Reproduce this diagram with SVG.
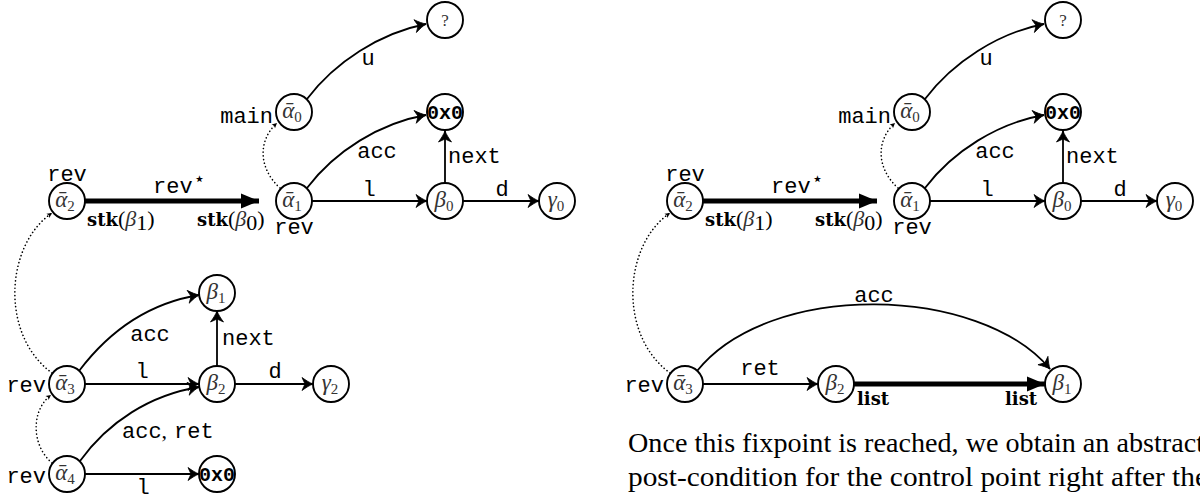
<svg xmlns="http://www.w3.org/2000/svg" width="1200" height="500" viewBox="0 0 1200 500">
<style>
.n circle{fill:#fff;stroke:#000;stroke-width:1.9}
.lab{font-family:"Liberation Serif","DejaVu Serif",serif;font-style:italic;font-size:23px;fill:#333;text-anchor:middle}
.sub{font-size:15px;font-style:normal}
.zz{font-family:"Liberation Mono","DejaVu Sans Mono",monospace;font-weight:bold;font-size:20px;fill:#000;text-anchor:middle}
.qm{font-family:"Liberation Serif","DejaVu Serif",serif;font-size:17px;fill:#333;text-anchor:middle}
.tt{font-family:"Liberation Mono","DejaVu Sans Mono",monospace;font-size:22px;fill:#000}
.star{font-family:"DejaVu Sans",sans-serif;font-size:19px}
.mid{text-anchor:middle}
.end{text-anchor:end}
.bf{font-family:"DejaVu Serif","Liberation Serif",serif;font-weight:bold;font-size:18px;fill:#000}
.mr{font-family:"Liberation Serif","DejaVu Serif",serif;font-size:22px;fill:#000}
.mi{font-style:italic;fill:#333}
.e{fill:none;stroke:#000;stroke-width:1.8;marker-end:url(#arr)}
.th{fill:none;stroke:#000;stroke-width:5;marker-end:url(#big)}
.dt{fill:none;stroke:#000;stroke-width:1.6;stroke-dasharray:0.1 3.6;stroke-linecap:round;marker-end:url(#sm)}
.body{font-family:"Liberation Serif","DejaVu Serif",serif;font-size:27px;fill:#000}
</style>
<defs>
<marker id="arr" markerUnits="userSpaceOnUse" viewBox="-13 -8 15 16" markerWidth="15" markerHeight="16" refX="0" refY="0" orient="auto">
<path d="M0,0 C-3,-1.2 -7,-3.5 -11,-6.5 L-8,0 L-11,6.5 C-7,3.5 -3,1.2 0,0 Z" fill="#000" stroke="#000" stroke-width="0.8" stroke-linejoin="round"/>
</marker>
<marker id="big" markerUnits="userSpaceOnUse" viewBox="-19 -9 20 18" markerWidth="20" markerHeight="18" refX="0" refY="0" orient="auto">
<path d="M0,0 L-18,-7.5 L-18,7.5 Z" fill="#000"/>
</marker>
<marker id="sm" markerUnits="userSpaceOnUse" viewBox="-7 -4 8 8" markerWidth="8" markerHeight="8" refX="0" refY="0" orient="auto">
<path d="M0,0 L-5,-2.6 L-3.8,0 L-5,2.6 Z" fill="#000"/>
</marker>
</defs>

<!-- LEFT DIAGRAM -->
<g id="left">
<g id="L-edges">
<path class="e" d="M307,99 C335,62 380,33 426,24"/>
<path class="e" d="M307,188 C335,151 380,123 426,115"/>
<path class="e" d="M312,201 L427,201"/>
<path class="e" d="M445,183 L445,131"/>
<path class="e" d="M463,201 L539,201"/>
<path class="th" d="M85,201 L259,201"/>
<path class="dt" d="M280,188 C258,168 258,140 277,123"/>
<path class="dt" d="M52,373 C0,335 5,245 52,213"/>
<path class="dt" d="M52,463 C31,445 31,410 51,395"/>
<path class="e" d="M79,371 C110,330 150,303 199,295"/>
<path class="e" d="M85,384 L199,384"/>
<path class="e" d="M80,461 C108,422 150,395 199,387"/>
<path class="e" d="M217,366 L217,311"/>
<path class="e" d="M235,384 L313,384"/>
<path class="e" d="M85,474 L199,474"/>
</g>
<g id="L-labels">
<text class="tt mid" x="67" y="181">rev</text>
<text class="tt" x="153" y="193">rev<tspan class="star" dx="1" dy="-8">⋆</tspan></text>
<text x="87" y="226"><tspan class="bf">stk</tspan><tspan class="mr">(</tspan><tspan class="mr mi">β</tspan><tspan class="mr" font-size="15" dy="4">1</tspan><tspan class="mr" dy="-4">)</tspan></text>
<text x="197" y="226"><tspan class="bf">stk</tspan><tspan class="mr">(</tspan><tspan class="mr mi">β</tspan><tspan class="mr" font-size="15" dy="4">0</tspan><tspan class="mr" dy="-4">)</tspan></text>
<text class="tt mid" x="294" y="234">rev</text>
<text class="tt end" x="273" y="123">main</text>
<text class="tt mid" x="368" y="65">u</text>
<text class="tt mid" x="377" y="158">acc</text>
<text class="tt mid" x="369" y="196">l</text>
<text class="tt" x="448" y="163">next</text>
<text class="tt mid" x="502" y="196">d</text>
<text class="tt mid" x="150" y="341">acc</text>
<text class="tt mid" x="142" y="378">l</text>
<text class="tt" x="222" y="345">next</text>
<text class="tt mid" x="275" y="378">d</text>
<text class="tt" x="122" y="438">acc<tspan class="mr">,</tspan><tspan dx="7">ret</tspan></text>
<text class="tt mid" x="143" y="494">l</text>
<text class="tt end" x="46" y="392">rev</text>
<text class="tt end" x="46" y="483">rev</text>
</g>
<g id="L-a0" class="n"><circle cx="294" cy="112" r="18"/><text class="lab" x="292" y="118">ᾱ<tspan class="sub" dy="4">0</tspan></text></g>
<g id="L-q" class="n"><circle cx="445" cy="20" r="18"/><text class="qm" x="445" y="26">?</text></g>
<g id="L-z0" class="n"><circle cx="445" cy="112" r="18"/><text class="zz" x="445" y="119">0x0</text></g>
<g id="L-a1" class="n"><circle cx="294" cy="201" r="18"/><text class="lab" x="292" y="207">ᾱ<tspan class="sub" dy="4">1</tspan></text></g>
<g id="L-b0" class="n"><circle cx="445" cy="201" r="18"/><text class="lab" x="444" y="207">β<tspan class="sub" dy="4">0</tspan></text></g>
<g id="L-g0" class="n"><circle cx="557" cy="201" r="18"/><text class="lab" x="556" y="207">γ<tspan class="sub" dy="4">0</tspan></text></g>
<g id="L-a2" class="n"><circle cx="67" cy="201" r="18"/><text class="lab" x="65" y="207">ᾱ<tspan class="sub" dy="4">2</tspan></text></g>
<g id="L-b1" class="n"><circle cx="217" cy="293" r="18"/><text class="lab" x="216" y="299">β<tspan class="sub" dy="4">1</tspan></text></g>
<g id="L-b2" class="n"><circle cx="217" cy="384" r="18"/><text class="lab" x="216" y="390">β<tspan class="sub" dy="4">2</tspan></text></g>
<g id="L-g2" class="n"><circle cx="331" cy="384" r="18"/><text class="lab" x="330" y="390">γ<tspan class="sub" dy="4">2</tspan></text></g>
<g id="L-a3" class="n"><circle cx="67" cy="384" r="18"/><text class="lab" x="65" y="390">ᾱ<tspan class="sub" dy="4">3</tspan></text></g>
<g id="L-a4" class="n"><circle cx="67" cy="474" r="18"/><text class="lab" x="65" y="480">ᾱ<tspan class="sub" dy="4">4</tspan></text></g>
<g id="L-z1" class="n"><circle cx="217" cy="474" r="18"/><text class="zz" x="217" y="481">0x0</text></g>
</g>

<!-- RIGHT DIAGRAM -->
<g id="right" transform="translate(618,0)">
<g id="R-edges">
<path class="e" d="M307,99 C335,62 380,33 426,24"/>
<path class="e" d="M307,188 C335,151 380,123 426,115"/>
<path class="e" d="M312,201 L427,201"/>
<path class="e" d="M445,183 L445,131"/>
<path class="e" d="M463,201 L539,201"/>
<path class="th" d="M85,201 L259,201"/>
<path class="dt" d="M280,188 C258,168 258,140 277,123"/>
<path class="dt" d="M52,373 C0,335 5,245 52,213"/>
<path class="e" d="M85,384 L200,384"/>
<path class="th" d="M236,384 L427,384"/>
<path class="e" d="M79,371 C152,280 362,285 432,369"/>
</g>
<g id="R-labels">
<text class="tt mid" x="67" y="181">rev</text>
<text class="tt" x="153" y="193">rev<tspan class="star" dx="1" dy="-8">⋆</tspan></text>
<text x="87" y="226"><tspan class="bf">stk</tspan><tspan class="mr">(</tspan><tspan class="mr mi">β</tspan><tspan class="mr" font-size="15" dy="4">1</tspan><tspan class="mr" dy="-4">)</tspan></text>
<text x="197" y="226"><tspan class="bf">stk</tspan><tspan class="mr">(</tspan><tspan class="mr mi">β</tspan><tspan class="mr" font-size="15" dy="4">0</tspan><tspan class="mr" dy="-4">)</tspan></text>
<text class="tt mid" x="294" y="234">rev</text>
<text class="tt end" x="273" y="123">main</text>
<text class="tt mid" x="368" y="65">u</text>
<text class="tt mid" x="377" y="158">acc</text>
<text class="tt mid" x="369" y="196">l</text>
<text class="tt" x="448" y="163">next</text>
<text class="tt mid" x="502" y="196">d</text>
<text class="tt mid" x="256" y="302">acc</text>
<text class="tt mid" x="142" y="375">ret</text>
<text class="bf" x="239" y="405">list</text>
<text class="bf" x="387" y="405">list</text>
<text class="tt end" x="46" y="392">rev</text>
</g>
<g id="R-a0" class="n"><circle cx="294" cy="112" r="18"/><text class="lab" x="292" y="118">ᾱ<tspan class="sub" dy="4">0</tspan></text></g>
<g id="R-q" class="n"><circle cx="445" cy="20" r="18"/><text class="qm" x="445" y="26">?</text></g>
<g id="R-z0" class="n"><circle cx="445" cy="112" r="18"/><text class="zz" x="445" y="119">0x0</text></g>
<g id="R-a1" class="n"><circle cx="294" cy="201" r="18"/><text class="lab" x="292" y="207">ᾱ<tspan class="sub" dy="4">1</tspan></text></g>
<g id="R-b0" class="n"><circle cx="445" cy="201" r="18"/><text class="lab" x="444" y="207">β<tspan class="sub" dy="4">0</tspan></text></g>
<g id="R-g0" class="n"><circle cx="557" cy="201" r="18"/><text class="lab" x="556" y="207">γ<tspan class="sub" dy="4">0</tspan></text></g>
<g id="R-a2" class="n"><circle cx="67" cy="201" r="18"/><text class="lab" x="65" y="207">ᾱ<tspan class="sub" dy="4">2</tspan></text></g>
<g id="R-a3" class="n"><circle cx="67" cy="384" r="18"/><text class="lab" x="65" y="390">ᾱ<tspan class="sub" dy="4">3</tspan></text></g>
<g id="R-b2" class="n"><circle cx="218" cy="384" r="18"/><text class="lab" x="217" y="390">β<tspan class="sub" dy="4">2</tspan></text></g>
<g id="R-b1" class="n"><circle cx="445" cy="384" r="18"/><text class="lab" x="444" y="390">β<tspan class="sub" dy="4">1</tspan></text></g>
</g>

<g id="caption">
<text class="body" x="628" y="452" textLength="576" lengthAdjust="spacingAndGlyphs">Once this fixpoint is reached, we obtain an abstract</text>
<text class="body" x="628" y="486" textLength="580" lengthAdjust="spacingAndGlyphs">post-condition for the control point right after the</text>
</g>
</svg>
